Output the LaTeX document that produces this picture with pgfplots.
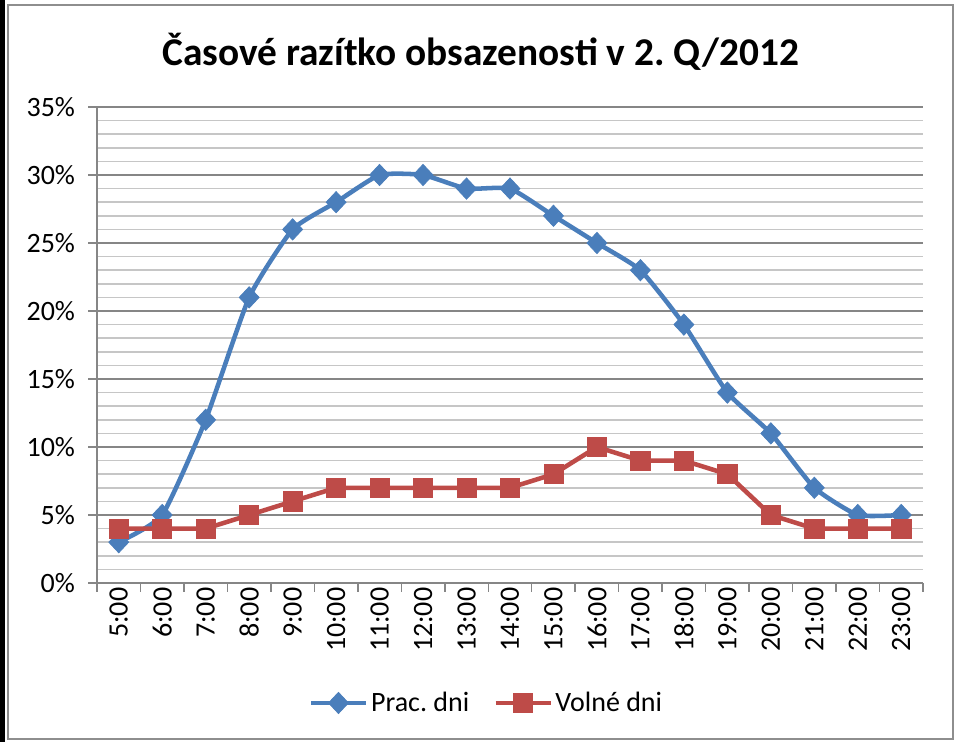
\documentclass[border=0pt]{standalone}
\usepackage{pgfplots}
\pgfplotsset{compat=1.18}
\usepackage{fontspec}
\setmainfont{Carlito}
\definecolor{blueS}{HTML}{4A7EBB}
\definecolor{redS}{HTML}{BE4B48}
\definecolor{majgrid}{HTML}{868686}
\definecolor{mingrid}{HTML}{C6C6C6}
\definecolor{framec}{HTML}{8E8E8E}
\frenchspacing
\begin{document}
\frenchspacing
\begin{tikzpicture}[x=0.75pt,y=0.75pt]
\useasboundingbox (0,0) rectangle (954,742);
\fill[white] (0,0) rectangle (954,742);
\fill[black] (0,0) rectangle (4.5,742);
\draw[framec, line width=1.5pt] (7.5,3) rectangle (952.5,737);
\node[font=\bfseries\fontsize{29.5}{34}\selectfont] at (481,690) {Časové razítko obsazenosti v 2. Q/2012};
\begin{axis}[
  at={(72.75pt,119.25pt)}, anchor=south west,
  scale only axis, width=619.5pt, height=357pt,
  xmin=-0.5, xmax=18.5, ymin=0, ymax=35,
  axis lines*=left,
  axis line style={majgrid, line width=1.1pt},
  xtick={-0.5,0.5,...,18.5}, xticklabel=\empty,
  extra x ticks={0,1,...,18},
  extra x tick labels={5:00,6:00,7:00,8:00,9:00,10:00,11:00,12:00,13:00,14:00,15:00,16:00,17:00,18:00,19:00,20:00,21:00,22:00,23:00},
  extra x tick style={major tick length=0pt, tick label style={rotate=90, anchor=east}},
  ytick={0,5,...,35}, yticklabels={0\%,5\%,10\%,15\%,20\%,25\%,30\%,35\%},
  yticklabel style={xshift=-6.5pt},
  minor y tick num=4,
  ymajorgrids, yminorgrids,
  major grid style={majgrid, line width=1.1pt},
  minor grid style={mingrid, line width=1.1pt},
  tick align=outside, major tick length=6.5pt, minor tick length=0pt,
  tick style={majgrid, line width=1.1pt},
  ticklabel style={font=\fontsize{21}{24}\selectfont},
  legend style={at={(0.472,-0.252)}, anchor=center, draw=none, fill=none,
    legend columns=2, font=\fontsize{21}{24}\selectfont,
    /tikz/every even column/.append style={column sep=16pt}},
  legend image code/.code={\draw[mark repeat=2,mark phase=2] plot coordinates {(0cm,0cm) (0.72cm,0cm) (1.45cm,0cm)};},
]
\addplot[blueS, line width=3.4pt, smooth, tension=0.3, mark=diamond*, mark size=8pt,
  mark options={solid, fill=blueS, line width=0.5pt, xscale=1.25}] coordinates {
(0,3) (1,5) (2,12) (3,21) (4,26) (5,28) (6,30) (7,30) (8,29) (9,29)
(10,27) (11,25) (12,23) (13,19) (14,14) (15,11) (16,7) (17,5) (18,5)};
\addlegendentry{Prac.\ dni}
\addplot[redS, line width=3.4pt, mark=square*, mark size=7.2pt,
  mark options={solid, fill=redS, line width=0.5pt}] coordinates {
(0,4) (1,4) (2,4) (3,5) (4,6) (5,7) (6,7) (7,7) (8,7) (9,7)
(10,8) (11,10) (12,9) (13,9) (14,8) (15,5) (16,4) (17,4) (18,4)};
\addlegendentry{Volné dni}
\end{axis}
\end{tikzpicture}
\end{document}
